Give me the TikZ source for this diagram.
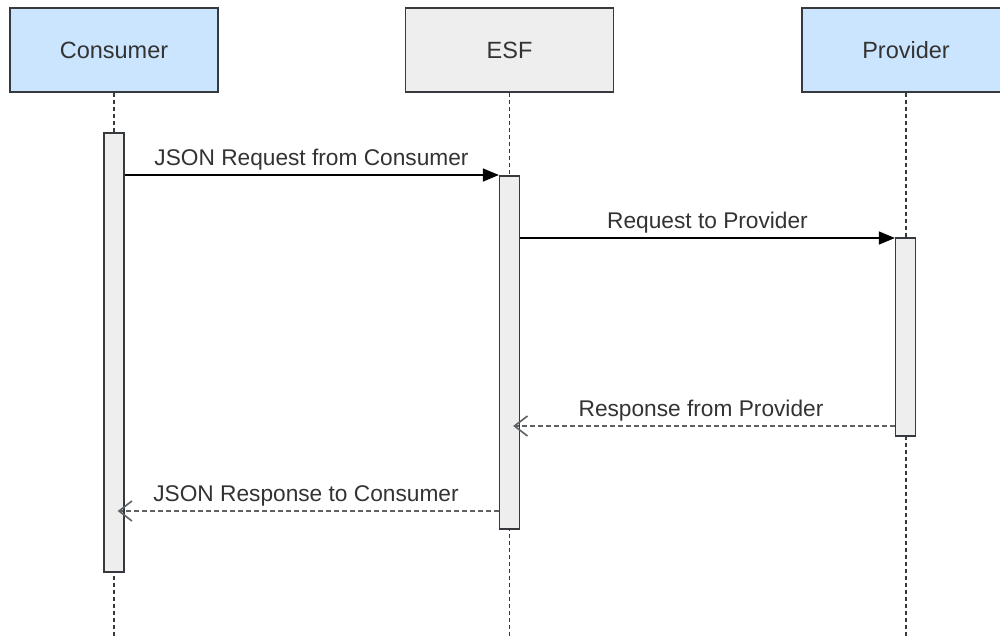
\documentclass[tikz,border=0pt]{standalone}
\usepackage{fontspec}
\setmainfont{Liberation Sans}
\usetikzlibrary{arrows.meta,calc}
\definecolor{hdrblue}{HTML}{CCE5FF}
\definecolor{hdrgray}{HTML}{EEEEEE}
\definecolor{edge}{HTML}{36393D}
\definecolor{txt}{HTML}{333333}
\definecolor{barfill}{HTML}{EEEEEE}
\tikzset{
  header/.style={draw=edge, line width=1.4pt, minimum width=208pt, minimum height=84pt,
    inner sep=0pt, text=txt, font=\fontsize{23.5}{28}\selectfont},
  actbar/.style={draw=edge, fill=barfill, line width=1.3pt, minimum width=20pt, inner sep=0pt},
  lifeline/.style={draw=edge, line width=1.4pt, dash pattern=on 4pt off 3pt},
  callmsg/.style={draw=black, line width=1.5pt, -{Triangle[length=16pt,width=13pt]}},
  retmsg/.style={draw=edge!80, line width=1.5pt, dash pattern=on 5pt off 3pt, shorten >=-7pt,
    -{Straight Barb[length=13pt,width=20pt,line width=1.6pt]}},
  msglabel/.style={anchor=base, inner sep=0pt, text=txt, font=\fontsize{22.7}{27}\selectfont}
}
\begin{document}
\begin{tikzpicture}[x=1pt,y=-1pt]
\useasboundingbox (0,0) rectangle (1000,635);
\fill[white] (0,0) rectangle (1000,635);
\begin{scope}
\clip (0,0) rectangle (1000,635);
% headers
\node[header, fill=hdrblue] (cons) at (114,50) {Consumer};
\node[header, fill=hdrgray] (esf) at (509.5,50) {ESF};
\node[header, fill=hdrblue] (prov) at (906,50) {Provider};
% lifeline ends
\coordinate (consend) at (114,640);
\coordinate (esfend) at (509.5,640);
\coordinate (provend) at (906,640);
\draw[lifeline] (cons.south) -- (consend);
\draw[lifeline] (esf.south) -- (esfend);
\draw[lifeline] (prov.south) -- (provend);
% activation bars
\node[actbar, minimum height=439pt] (cbar) at (114,352.5) {};
\node[actbar, minimum height=353pt] (ebar) at (509.5,352.5) {};
\node[actbar, minimum height=198pt] (pbar) at (905.5,337) {};
% message rows
\coordinate (m1) at (0,175);
\coordinate (m2) at (0,238);
\coordinate (m3) at (0,426);
\coordinate (m4) at (0,511);
\draw[callmsg] (cbar.east |- m1) -- (ebar.west |- m1);
\draw[callmsg] (ebar.east |- m2) -- (pbar.west |- m2);
\draw[retmsg] (pbar.west |- m3) -- (ebar.east |- m3);
\draw[retmsg] (ebar.west |- m4) -- (cbar.east |- m4);
% labels
\node[msglabel] (l1) at (311.5,165) {JSON Request from Consumer};
\node[msglabel] (l2) at (707.5,228) {Request to Provider};
\node[msglabel] (l3) at (701,416) {Response from Provider};
\node[msglabel] (l4) at (306,501) {JSON Response to Consumer};
\end{scope}
\end{tikzpicture}
\end{document}
